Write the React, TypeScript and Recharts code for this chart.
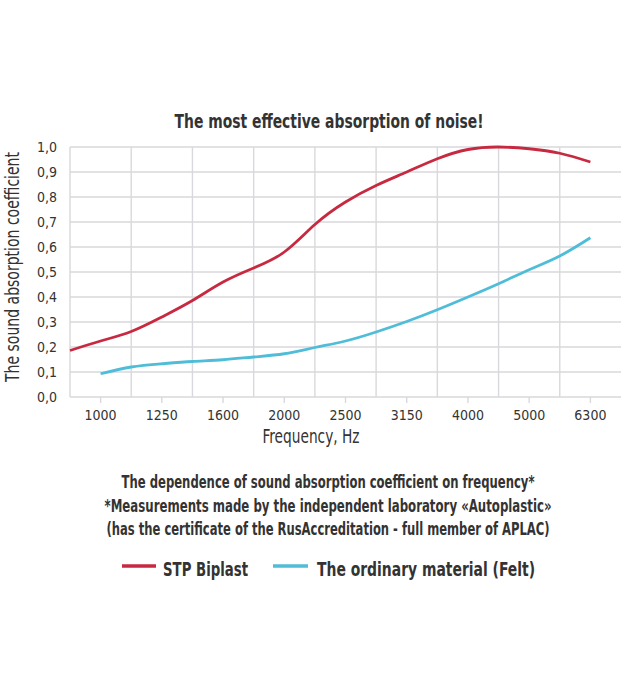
import React from "react";
import { LineChart, Line, XAxis, YAxis, CartesianGrid, ReferenceLine } from "recharts";

// frequency bands shown under the x axis (one per category slot)
const FREQUENCIES = ["1000", "1250", "1600", "2000", "2500", "3150", "4000", "5000", "6300"];
const FREQ_TICKS = [0, 1, 2, 3, 4, 5, 6, 7, 8];
// category borders, drawn as vertical grid lines
const BAND_EDGES = [-0.5, 0.5, 1.5, 2.5, 3.5, 4.5, 5.5, 6.5, 7.5];
const Y_TICKS = [0, 0.1, 0.2, 0.3, 0.4, 0.5, 0.6, 0.7, 0.8, 0.9, 1.0];

// sample positions along the category axis (read at centres and borders)
const POSITIONS = [-0.5, 0, 0.5, 1, 1.5, 2, 2.5, 3, 3.5, 4, 4.5, 5, 5.5, 6, 6.5, 7, 7.5, 8];
const BIPLAST = [0.186, 0.224, 0.262, 0.32, 0.386, 0.46, 0.516, 0.58, 0.69, 0.78, 0.846, 0.9, 0.953, 0.99, 1.0, 0.993, 0.975, 0.94];
const FELT = [null, 0.093, 0.12, 0.133, 0.142, 0.149, 0.16, 0.173, 0.198, 0.224, 0.26, 0.302, 0.349, 0.4, 0.453, 0.509, 0.564, 0.637];

const NOTES = [
  "The dependence of sound absorption coefficient on frequency*",
  "*Measurements made by the independent laboratory «Autoplastic»",
  "(has the certificate of the RusAccreditation - full member of APLAC)",
];

const RED = "#c72a40";
const BLUE = "#4fbdd8";
const GRID = "#d9d9dd";
const INK = "#333333";
const FONT = "'Liberation Sans Narrow', 'DejaVu Sans Condensed', 'Roboto Condensed', sans-serif";

const data = POSITIONS.map((x, i) => ({ x, biplast: BIPLAST[i], felt: FELT[i] }));

const fmtY = (v: number) => v.toFixed(1).replace(".", ",");

// the original uses a narrow face; squeeze horizontally so it fits
const NOTE_SQUEEZE = 0.72;
const NOTE_LAYOUT = [
  { y: 488, w: 413 },
  { y: 512, w: 447 },
  { y: 535, w: 443 },
];

export default function App() {
  return (
    <div style={{ position: "absolute", left: 0, top: 0, width: 621, height: 690, background: "#fff", fontFamily: FONT }}>
      <LineChart
        width={621}
        height={690}
        data={data}
        margin={{ top: 147, right: 0, bottom: 263, left: 20 }}
      >
        <CartesianGrid vertical={false} stroke={GRID} strokeWidth={1.4} />
        {BAND_EDGES.map((x) => (
          <ReferenceLine key={x} x={x} stroke={GRID} strokeWidth={1.4} />
        ))}
        <XAxis
          dataKey="x"
          type="number"
          domain={[-0.5, 8.5]}
          ticks={FREQ_TICKS}
          tickFormatter={(i) => FREQUENCIES[i]}
          axisLine={false}
          tickLine={{ stroke: GRID, strokeWidth: 1.4 }}
          tickSize={6}
          tickMargin={7}
          height={30}
          tick={{ fill: INK, fontSize: 14, fontFamily: FONT }}
        />
        <YAxis
          type="number"
          domain={[0, 1]}
          ticks={Y_TICKS}
          tickFormatter={fmtY}
          axisLine={false}
          tickLine={false}
          tickSize={0}
          tickMargin={13}
          width={50}
          tick={{ fill: INK, fontSize: 14, fontFamily: FONT }}
        />
        <Line type="natural" dataKey="felt" stroke={BLUE} strokeWidth={2.8} dot={false} isAnimationActive={false} />
        <Line type="natural" dataKey="biplast" stroke={RED} strokeWidth={2.8} dot={false} isAnimationActive={false} />
      </LineChart>

      <svg width={621} height={690} style={{ position: "absolute", left: 0, top: 0, pointerEvents: "none" }} fontFamily={FONT}>
        <text x={329} y={128} textAnchor="middle" textLength={309} lengthAdjust="spacingAndGlyphs" fontSize={20} fontWeight="bold" fill={INK}>
          The most effective absorption of noise!
        </text>
        <text
          x={19}
          y={267}
          transform="rotate(-90 19 267)"
          textAnchor="middle"
          textLength={230}
          lengthAdjust="spacingAndGlyphs"
          fontSize={20}
          fill={INK}
        >
          The sound absorption coefficient
        </text>
        <text x={311} y={443} textAnchor="middle" textLength={97} lengthAdjust="spacingAndGlyphs" fontSize={19} fill={INK}>
          Frequency, Hz
        </text>
        <g transform={`translate(328 0) scale(${NOTE_SQUEEZE} 1)`} fontSize={17} fontWeight="bold" fill={INK} textAnchor="middle">
          {NOTES.map((t, i) => (
            <text key={i} x={0} y={NOTE_LAYOUT[i].y} textLength={NOTE_LAYOUT[i].w / NOTE_SQUEEZE} lengthAdjust="spacingAndGlyphs">
              {t}
            </text>
          ))}
        </g>
        <line x1={122} x2={156} y1={566} y2={566} stroke={RED} strokeWidth={3.5} />
        <text x={163} y={576} textLength={85} lengthAdjust="spacingAndGlyphs" fontSize={19} fontWeight="bold" fill={INK}>
          STP Biplast
        </text>
        <line x1={273} x2={308} y1={566} y2={566} stroke={BLUE} strokeWidth={3.5} />
        <text x={317} y={576} textLength={218} lengthAdjust="spacingAndGlyphs" fontSize={19} fontWeight="bold" fill={INK}>
          The ordinary material (Felt)
        </text>
      </svg>
    </div>
  );
}
